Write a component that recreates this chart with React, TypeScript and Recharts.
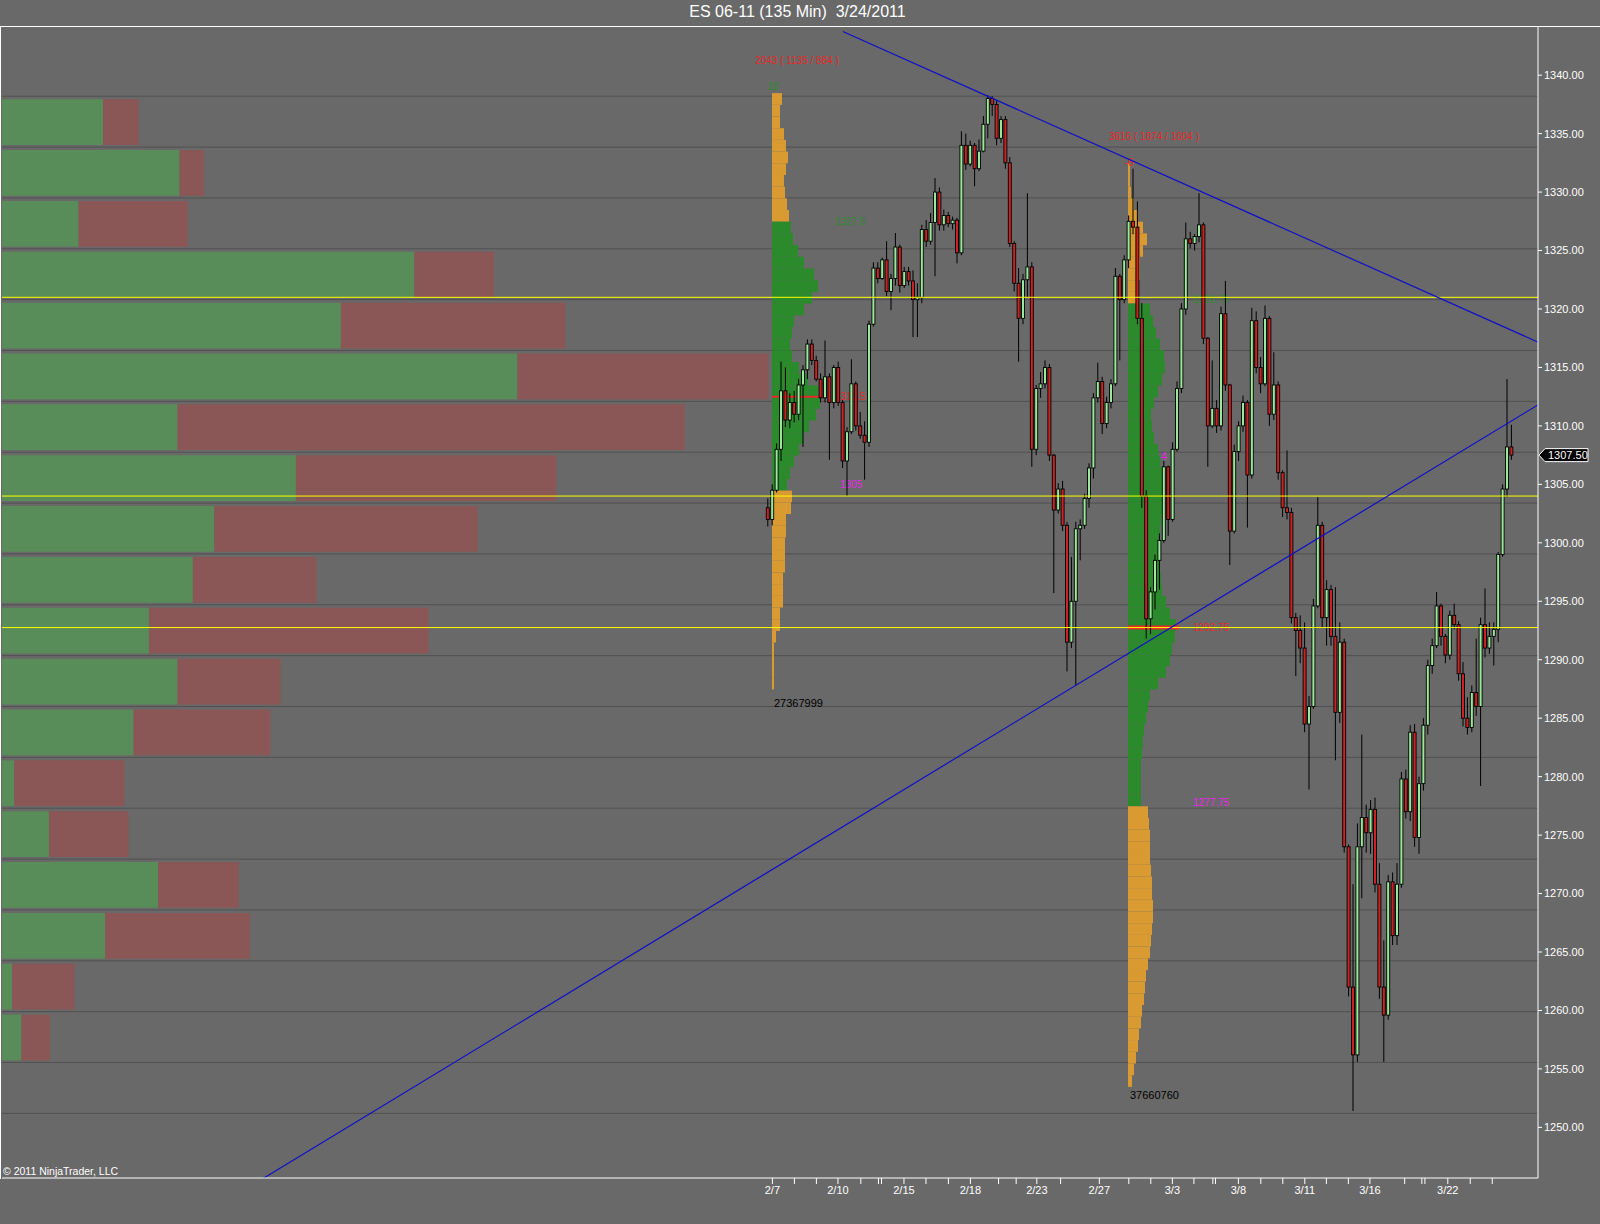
import React from 'react';
import { ComposedChart, BarChart, Bar, XAxis, YAxis, ReferenceLine, ReferenceDot, Cell } from 'recharts';

// ---------------- data ----------------
const title = 'ES 06-11 (135 Min)  3/24/2011';
const copyright = '\u00A9 2011 NinjaTrader, LLC';

// 135-min bars (open, high, low, close), resampled from the chart
const ohlc: [number, number, number, number][] = [
  [1303.0, 1303.8, 1301.4, 1302.0], [1302.0, 1305.0, 1301.5, 1304.5], [1304.5, 1308.5, 1304.3, 1308.0], [1308.0, 1315.5, 1307.0, 1313.0],
  [1313.0, 1315.0, 1309.9, 1310.5], [1310.5, 1312.8, 1309.8, 1312.0], [1312.0, 1313.0, 1310.3, 1311.0], [1311.0, 1314.0, 1310.5, 1313.5],
  [1313.5, 1315.2, 1308.2, 1314.8], [1314.8, 1317.4, 1314.0, 1317.0], [1317.0, 1317.4, 1315.2, 1315.6], [1315.6, 1316.0, 1313.8, 1314.0],
  [1314.0, 1314.5, 1312.0, 1312.4], [1312.4, 1317.3, 1312.0, 1314.2], [1314.2, 1314.5, 1307.1, 1312.0], [1312.0, 1315.2, 1311.5, 1315.0],
  [1315.0, 1315.5, 1311.7, 1312.0], [1312.0, 1312.2, 1306.4, 1307.0], [1307.0, 1309.9, 1304.0, 1309.5], [1309.5, 1315.7, 1309.3, 1313.6],
  [1313.6, 1313.8, 1309.6, 1310.0], [1310.0, 1311.2, 1308.9, 1309.2], [1309.2, 1310.4, 1305.4, 1308.6], [1308.6, 1319.0, 1308.2, 1318.7],
  [1318.7, 1324.0, 1318.5, 1323.5], [1323.5, 1324.0, 1322.2, 1322.6], [1322.6, 1324.4, 1322.5, 1324.2], [1324.2, 1325.8, 1321.1, 1321.5],
  [1321.5, 1323.0, 1319.9, 1322.6], [1322.6, 1326.5, 1322.0, 1325.3], [1325.3, 1325.5, 1321.4, 1322.0], [1322.0, 1323.6, 1321.8, 1323.2],
  [1323.2, 1323.6, 1322.0, 1322.4], [1322.4, 1323.3, 1317.6, 1320.8], [1320.8, 1322.2, 1317.6, 1321.0], [1321.0, 1327.2, 1320.5, 1326.8],
  [1326.8, 1327.6, 1325.3, 1325.8], [1325.8, 1328.2, 1325.5, 1327.4], [1327.4, 1331.2, 1322.8, 1330.0], [1330.0, 1330.4, 1326.7, 1327.2],
  [1327.2, 1328.5, 1326.7, 1328.0], [1328.0, 1328.3, 1327.0, 1327.3], [1327.3, 1327.9, 1326.8, 1327.6], [1327.6, 1327.8, 1323.9, 1324.8],
  [1324.8, 1335.2, 1324.6, 1334.0], [1334.0, 1335.0, 1331.9, 1332.4], [1332.4, 1334.4, 1332.2, 1334.0], [1334.0, 1334.2, 1330.5, 1332.0],
  [1332.0, 1334.5, 1331.8, 1333.5], [1333.5, 1336.5, 1333.4, 1335.8], [1335.8, 1338.3, 1334.6, 1338.0], [1338.0, 1338.2, 1336.5, 1337.5],
  [1337.5, 1337.8, 1334.0, 1334.6], [1334.6, 1336.5, 1334.2, 1336.2], [1336.2, 1336.5, 1332.0, 1332.5], [1332.5, 1333.0, 1325.3, 1325.6],
  [1325.6, 1325.8, 1321.5, 1322.2], [1322.2, 1323.5, 1315.5, 1319.2], [1319.2, 1323.0, 1318.7, 1322.5], [1322.5, 1329.9, 1321.0, 1323.6],
  [1323.6, 1324.0, 1306.5, 1308.0], [1308.0, 1313.5, 1307.5, 1313.2], [1313.2, 1314.6, 1312.4, 1313.6], [1313.6, 1315.6, 1313.2, 1315.0],
  [1315.0, 1315.3, 1307.0, 1307.5], [1307.5, 1307.6, 1295.7, 1302.8], [1302.8, 1305.1, 1302.5, 1304.6], [1304.6, 1305.3, 1301.0, 1301.5],
  [1301.5, 1301.8, 1289.0, 1291.5], [1291.5, 1298.8, 1291.0, 1295.0], [1295.0, 1301.8, 1287.8, 1301.2], [1301.2, 1302.0, 1298.5, 1301.5],
  [1301.5, 1304.2, 1301.2, 1303.8], [1303.8, 1306.8, 1303.0, 1306.4], [1306.4, 1312.8, 1305.5, 1312.4], [1312.4, 1315.4, 1312.0, 1313.8],
  [1313.8, 1314.2, 1309.3, 1310.2], [1310.2, 1312.5, 1309.8, 1312.0], [1312.0, 1314.0, 1311.5, 1313.6], [1313.6, 1323.5, 1313.4, 1322.8],
  [1322.8, 1323.0, 1315.6, 1320.8], [1320.8, 1324.6, 1320.5, 1324.2], [1324.2, 1328.0, 1323.5, 1327.5], [1327.5, 1332.0, 1326.4, 1327.0],
  [1327.0, 1329.2, 1318.7, 1319.2], [1319.2, 1320.5, 1303.0, 1304.0], [1304.0, 1304.5, 1291.8, 1293.5], [1293.5, 1296.2, 1292.2, 1295.8],
  [1295.8, 1299.0, 1294.3, 1298.5], [1298.5, 1300.8, 1296.0, 1300.2], [1300.2, 1307.0, 1300.0, 1306.5], [1306.5, 1306.6, 1300.6, 1302.0],
  [1302.0, 1308.6, 1301.8, 1308.0], [1308.0, 1313.8, 1307.8, 1313.2], [1313.2, 1320.5, 1312.8, 1320.0], [1320.0, 1327.4, 1319.5, 1326.0],
  [1326.0, 1326.6, 1325.2, 1325.6], [1325.6, 1326.4, 1325.0, 1326.2], [1326.2, 1329.9, 1325.7, 1327.2], [1327.2, 1327.4, 1317.0, 1317.5],
  [1317.5, 1317.6, 1306.5, 1310.0], [1310.0, 1315.6, 1309.8, 1311.5], [1311.5, 1312.2, 1309.4, 1310.0], [1310.0, 1320.2, 1309.6, 1319.6],
  [1319.6, 1322.4, 1313.0, 1313.5], [1313.5, 1313.6, 1298.1, 1301.0], [1301.0, 1308.4, 1300.8, 1307.8], [1307.8, 1310.4, 1307.0, 1310.0],
  [1310.0, 1312.6, 1309.5, 1312.0], [1312.0, 1312.2, 1301.3, 1305.8], [1305.8, 1320.1, 1305.5, 1319.0], [1319.0, 1319.8, 1314.5, 1315.0],
  [1315.0, 1315.9, 1312.8, 1313.6], [1313.6, 1320.3, 1313.4, 1319.2], [1319.2, 1319.4, 1310.0, 1311.0], [1311.0, 1316.3, 1310.5, 1313.5],
  [1313.5, 1313.8, 1305.4, 1306.0], [1306.0, 1306.2, 1302.2, 1303.0], [1303.0, 1307.9, 1302.0, 1302.6], [1302.6, 1303.0, 1293.1, 1293.6],
  [1293.6, 1294.0, 1288.6, 1292.5], [1292.5, 1293.8, 1289.7, 1291.0], [1291.0, 1293.2, 1283.8, 1284.5], [1284.5, 1286.9, 1278.9, 1286.0],
  [1286.0, 1295.2, 1285.8, 1294.6], [1294.6, 1303.9, 1294.4, 1301.5], [1301.5, 1301.8, 1292.7, 1293.6], [1293.6, 1296.8, 1291.2, 1296.0],
  [1296.0, 1296.4, 1291.2, 1292.0], [1292.0, 1296.2, 1281.4, 1285.5], [1285.5, 1293.2, 1284.6, 1291.5], [1291.5, 1291.8, 1273.5, 1274.0],
  [1274.0, 1274.2, 1261.2, 1262.0], [1262.0, 1270.8, 1251.4, 1256.2], [1256.2, 1276.0, 1255.6, 1274.0], [1274.0, 1283.6, 1269.6, 1276.5],
  [1276.5, 1277.6, 1273.5, 1275.2], [1275.2, 1278.0, 1273.4, 1277.2], [1277.2, 1278.2, 1270.1, 1270.8], [1270.8, 1272.6, 1261.0, 1262.0],
  [1262.0, 1266.0, 1255.6, 1259.6], [1259.6, 1271.6, 1259.2, 1271.0], [1271.0, 1271.8, 1265.6, 1266.4], [1266.4, 1272.6, 1265.6, 1270.8],
  [1270.8, 1280.4, 1270.5, 1279.8], [1279.8, 1280.6, 1276.4, 1277.0], [1277.0, 1284.4, 1276.2, 1283.8], [1283.8, 1284.5, 1274.0, 1274.8],
  [1274.8, 1280.0, 1273.4, 1279.4], [1279.4, 1285.0, 1278.8, 1284.4], [1284.4, 1290.0, 1283.6, 1289.5], [1289.5, 1291.8, 1288.8, 1291.2],
  [1291.2, 1295.8, 1291.0, 1294.6], [1294.6, 1294.8, 1291.2, 1292.0], [1292.0, 1292.2, 1289.7, 1290.4], [1290.4, 1294.2, 1290.0, 1293.8],
  [1293.8, 1294.8, 1292.6, 1293.0], [1293.0, 1293.3, 1288.2, 1288.8], [1288.8, 1289.8, 1284.3, 1285.0], [1285.0, 1286.8, 1283.6, 1284.2],
  [1284.2, 1287.8, 1283.8, 1287.2], [1287.2, 1291.8, 1285.2, 1286.0], [1286.0, 1293.6, 1279.2, 1293.0], [1293.0, 1296.1, 1290.2, 1291.0],
  [1291.0, 1293.2, 1290.5, 1292.0], [1292.0, 1293.2, 1289.5, 1292.6], [1292.6, 1299.2, 1291.5, 1299.0], [1299.0, 1305.0, 1298.8, 1304.6],
  [1304.6, 1314.0, 1303.9, 1308.2], [1308.2, 1310.1, 1307.1, 1307.5],
];

// session boundaries (in bar units) and their date labels
const dayTicks = [1.0, 6.0, 11.0, 15.9, 21.1, 25.1, 25.8, 30.9, 35.9, 41.0, 46.0, 52.4, 56.4, 61.1, 66.5, 75.3, 82.0, 87.0,
  91.9, 96.8, 101.1, 101.7, 106.9, 112.0, 117.0, 122.0, 126.9, 131.9, 136.8, 144.7, 148.6, 149.3, 154.5, 159.6, 164.6];
const dayTickLabels = ['2/7', '', '', '2/10', '', '', '', '2/15', '', '', '2/18', '', '', '2/23', '', '2/27', '', '',
  '3/3', '', '', '', '3/8', '', '', '3/11', '', '', '3/16', '', '', '', '3/22', '', ''];

const priceTicks = [1250, 1255, 1260, 1265, 1270, 1275, 1280, 1285, 1290, 1295, 1300, 1305, 1310, 1315, 1320, 1325, 1330, 1335, 1340];

const levelLines = [1321.0, 1304.0, 1292.75];
const downTrend = [{ x: 17, y: 1343.74 }, { x: 176, y: 1317.0 }];
const upTrend = [{ x: -120, y: 1244.43 }, { x: 176, y: 1312.03 }];

// volume by price (left histogram)
const vbpEdges = [1338.2, 1333.85, 1329.5, 1325.15, 1320.8, 1316.45, 1312.1, 1307.75, 1303.4, 1299.05, 1294.7,
  1290.35, 1286.0, 1281.65, 1277.3, 1272.95, 1268.6, 1264.25, 1259.9, 1255.55, 1251.2];
const vbpBuy = [99, 174, 75, 404, 332, 505, 172, 288, 208, 187, 144, 172, 129, 12, 46, 153, 101, 10, 19];
const vbpSell = [35, 24, 107, 78, 220, 246, 497, 255, 258, 121, 274, 101, 134, 108, 78, 79, 142, 61, 28];

// market profile 1 (2/7 - 2/25)
const p1Prices = [1338, 1337, 1336, 1335, 1334, 1333, 1332, 1331, 1330, 1329, 1328, 1327, 1326, 1325, 1324, 1323, 1322, 1321,
  1320, 1319, 1318, 1317, 1316, 1315, 1314, 1313, 1312, 1311, 1310, 1309, 1308, 1307, 1306, 1305, 1304, 1303, 1302, 1301,
  1300, 1299, 1298, 1297, 1296, 1295, 1294, 1293, 1292, 1291, 1290, 1289, 1288];
const p1Vol = [10, 8, 8, 12, 14, 16, 14, 12, 13, 15, 17, 19, 21, 26, 32, 42, 46, 40, 32, 22, 20, 18, 20, 27, 36, 46, 48, 44,
  37, 31, 27, 22, 18, 15, 20, 19, 14, 14, 13, 13, 13, 11, 11, 11, 8, 8, 4, 2, 2, 2, 2];

// market profile 2 (2/28 - )
const p2Prices = [1332, 1331, 1330, 1329, 1328, 1327, 1326, 1325, 1324, 1323, 1322, 1321, 1320, 1319, 1318, 1317, 1316, 1315,
  1314, 1313, 1312, 1311, 1310, 1309, 1308, 1307, 1306, 1305, 1304, 1303, 1302, 1301, 1300, 1299, 1298, 1297, 1296, 1295,
  1294, 1293, 1292, 1291, 1290, 1289, 1288, 1287, 1286, 1285, 1284, 1283, 1282, 1281, 1280, 1279, 1278, 1277, 1276, 1275,
  1274, 1273, 1272, 1271, 1270, 1269, 1268, 1267, 1266, 1265, 1264, 1263, 1262, 1261, 1260, 1259, 1258, 1257, 1256, 1255, 1254];
const p2Vol = [2, 2, 3, 6, 10, 15, 19, 15, 12, 12, 11, 10, 22, 25, 28, 32, 36, 37, 34, 30, 26, 23, 24, 26, 30, 32, 34, 35,
  35, 34, 33, 32, 32, 32, 32, 33, 34, 38, 42, 48, 47, 44, 42, 38, 30, 22, 20, 18, 16, 15, 14, 13, 13, 13, 13,
  20, 21, 22, 22, 22, 23, 24, 24, 25, 25, 24, 23, 22, 20, 18, 17, 16, 14, 13, 11, 10, 8, 6, 4];

const p1Stats = { vah: 1327.5, val: 1305, poc: 1312.5 };
const p2Stats = { vah: 1320.75, val: 1277.75, poc: 1292.75 };

// ---------------- layout / style ----------------
const W = 1600;
const H = 1224;
const PLOT_TOP = 27;
const PLOT_LEFT = 2;
const AXIS_W = 62;
const XAXIS_H = 46;
const PRICE_DOMAIN: [number, number] = [1245.67, 1344.12];
const BAR_PX = 4.4;
const FIRST_BAR_X = 768;
const X_DOMAIN: [number, number] = [(PLOT_LEFT - FIRST_BAR_X) / BAR_PX, (W - AXIS_W - FIRST_BAR_X) / BAR_PX];
const VBP_MAX = 1505;
const PROFILE_W = 240;
const PROFILE_PAD = 40;

const FONT = '"Liberation Sans", Arial, Helvetica, sans-serif';
const BG = '#696969';
const GRID = '#515151';
const UP = '#9be89b';
const DOWN = '#cc2222';
const VBP_GREEN = '#588c58';
const VBP_RED = '#8b5656';
const PROF_GREEN = '#2b8a2b';
const PROF_ORANGE = '#d99a32';
const LBL_RED = '#e82828';
const LBL_GREEN = '#2e8b2e';
const LBL_MAGENTA = '#ee22ee';
const TREND = '#1010c8';

const candles = ohlc.map(([open, high, low, close], i) => ({ i, open, high, low, close, range: [low, high] }));
const lastClose = ohlc[ohlc.length - 1][3];
const vbpRows = vbpBuy.map((b, k) => ({ price: (vbpEdges[k] + vbpEdges[k + 1]) / 2, buy: b, sell: vbpSell[k] }));

function Candle(props: any) {
  const { x, y, width, height, payload } = props;
  if (!payload || x == null || y == null) return null;
  const top = Math.min(y, y + height);
  const h = Math.abs(height);
  const { open, high, low, close } = payload;
  const k = high > low ? h / (high - low) : 0;
  const py = (p: number) => top + (high - p) * k;
  const cx = x + width / 2;
  const bTop = py(Math.max(open, close));
  const bBot = py(Math.min(open, close));
  const up = close >= open;
  return (
    <g>
      <line x1={cx} x2={cx} y1={top} y2={top + h} stroke="#000" strokeWidth={1} />
      <rect x={x + 0.5} y={bTop} width={Math.max(1, width - 1)} height={Math.max(1, bBot - bTop)}
        fill={up ? UP : DOWN} stroke="#000" strokeWidth={0.9} />
    </g>
  );
}

// profile row: slightly taller than its band so rows join without seams
function ProfileRow(props: any) {
  const { x, y, width, height, fill } = props;
  if (x == null || y == null || !width) return null;
  const top = Math.min(y, y + height);
  const h = Math.abs(height);
  return <rect x={x} y={top - 0.6} width={Math.abs(width)} height={h + 1.2} fill={fill} />;
}

function PriceTag(props: any) {
  const vb = props.viewBox || {};
  const x = vb.x + vb.width;
  const y = vb.y;
  return (
    <g>
      <path d={`M${x + 1},${y} L${x + 7},${y - 6.5} L${x + 50},${y - 6.5} L${x + 50},${y + 6.5} L${x + 7},${y + 6.5} Z`}
        fill="#000" stroke="#fff" strokeWidth={1} />
      <text x={x + 10} y={y + 4} fill="#fff" fontSize={11} fontFamily={FONT}>{lastClose.toFixed(2)}</text>
    </g>
  );
}

type Lbl = { text: string; x: number; y: number; color: string; center?: boolean; size?: number };

const p1Labels: Lbl[] = [
  { text: '2043 ( 1135 / 884 )', x: 25, y: 1341.3, color: LBL_RED, center: true },
  { text: '18', x: 1, y: 1339.0, color: LBL_GREEN, center: true },
  { text: '1327.5', x: 63, y: 1327.5, color: LBL_GREEN },
  { text: '1312.5', x: 63, y: 1312.5, color: LBL_RED },
  { text: '1305', x: 68, y: 1305.0, color: LBL_MAGENTA },
  { text: '27367999', x: 2, y: 1286.3, color: '#000', size: 11 },
];
const p2Labels: Lbl[] = [
  { text: '3616 ( 1874 / 1604 )', x: 26, y: 1334.8, color: LBL_RED, center: true },
  { text: '-6', x: 1, y: 1332.5, color: LBL_RED, center: true },
  { text: '1320.75', x: 65, y: 1320.8, color: LBL_GREEN },
  { text: '1292.75', x: 65, y: 1292.75, color: LBL_RED },
  { text: '1277.75', x: 65, y: 1277.78, color: LBL_MAGENTA },
  { text: '4', x: 36, y: 1307.4, color: LBL_MAGENTA, center: true },
  { text: '37660760', x: 2, y: 1252.8, color: '#000', size: 11 },
];

function Profile(props: { left: number; prices: number[]; vols: number[]; stats: { vah: number; val: number; poc: number };
  pocLen: number; pocWidth: number; labels: Lbl[] }) {
  const { left, prices, vols, stats, pocLen, pocWidth, labels } = props;
  const rows = prices.map((p, k) => ({ price: p, vol: vols[k] }));
  return (
    <div style={{ position: 'absolute', left: left - PROFILE_PAD, top: 0 }}>
      <BarChart layout="vertical" width={PROFILE_W} height={H} data={rows}
        margin={{ top: PLOT_TOP, right: 0, bottom: XAXIS_H, left: 0 }}>
        <XAxis type="number" domain={[-PROFILE_PAD, PROFILE_W - PROFILE_PAD]} hide allowDataOverflow />
        <YAxis type="number" dataKey="price" domain={PRICE_DOMAIN} hide allowDataOverflow reversed />
        <Bar dataKey="vol" barSize={12} isAnimationActive={false} shape={(p: any) => <ProfileRow {...p} />}>
          {rows.map((r, k) => (
            <Cell key={k} fill={r.price <= stats.vah && r.price >= stats.val ? PROF_GREEN : PROF_ORANGE} />
          ))}
        </Bar>
        <ReferenceLine segment={[{ x: 0, y: stats.poc }, { x: pocLen, y: stats.poc }]} stroke={LBL_RED}
          strokeWidth={pocWidth} ifOverflow="visible" />
        {labels.map((l, k) => (
          <ReferenceDot key={k} x={l.x} y={l.y} r={0} fill="none" stroke="none" ifOverflow="visible"
            label={{ value: l.text, position: l.center ? 'center' : 'right', offset: 0, fill: l.color,
              fontSize: l.size || 10, fontFamily: FONT }} />
        ))}
      </BarChart>
    </div>
  );
}

export default function App() {
  return (
    <div style={{ position: 'absolute', left: 0, top: 0, width: W, height: H, background: BG, overflow: 'hidden', fontFamily: FONT }}>
      <div style={{ position: 'absolute', left: 0, top: 3, width: 1595, textAlign: 'center', color: '#fff', fontSize: 16, whiteSpace: 'pre' }}>{title}</div>

      {/* volume by price */}
      <div style={{ position: 'absolute', left: 0, top: 0 }}>
        <BarChart layout="vertical" width={W} height={H} data={vbpRows}
          margin={{ top: PLOT_TOP, right: AXIS_W, bottom: XAXIS_H, left: PLOT_LEFT }}>
          <XAxis type="number" domain={[0, VBP_MAX]} hide allowDataOverflow />
          <YAxis type="number" dataKey="price" domain={PRICE_DOMAIN} hide allowDataOverflow reversed />
          <Bar dataKey="buy" stackId="v" fill={VBP_GREEN} barSize={51} isAnimationActive={false} />
          <Bar dataKey="sell" stackId="v" fill={VBP_RED} barSize={51} isAnimationActive={false} />
          {vbpEdges.map((e) => (
            <ReferenceLine key={e} y={e} stroke={GRID} strokeWidth={1} />
          ))}
        </BarChart>
      </div>

      <Profile left={772} prices={p1Prices} vols={p1Vol} stats={p1Stats} pocLen={51} pocWidth={2} labels={p1Labels} />
      <Profile left={1128} prices={p2Prices} vols={p2Vol} stats={p2Stats} pocLen={51} pocWidth={4} labels={p2Labels} />

      {/* candles + axes */}
      <div style={{ position: 'absolute', left: 0, top: 0 }}>
        <ComposedChart width={W} height={H} data={candles} margin={{ top: PLOT_TOP, right: 0, bottom: 0, left: PLOT_LEFT }}>
          <XAxis dataKey="i" type="number" domain={X_DOMAIN} allowDataOverflow ticks={dayTicks} interval={0}
            tickFormatter={(v: number) => dayTickLabels[dayTicks.indexOf(v)] || ''} height={XAXIS_H} tickSize={6}
            axisLine={{ stroke: '#fff' }} tickLine={{ stroke: '#fff' }}
            tick={{ fill: '#fff', fontSize: 11, fontFamily: FONT }} />
          <YAxis orientation="right" type="number" domain={PRICE_DOMAIN} allowDataOverflow ticks={priceTicks} interval={0}
            width={AXIS_W} tickSize={4} tickFormatter={(v: number) => v.toFixed(2)}
            axisLine={{ stroke: '#fff' }} tickLine={{ stroke: '#fff' }}
            tick={{ fill: '#fff', fontSize: 11, fontFamily: FONT }} />
          {levelLines.map((v) => (
            <ReferenceLine key={v} y={v} stroke="#ffff00" strokeWidth={1} />
          ))}
          <Bar dataKey="range" barSize={4} isAnimationActive={false} shape={(p: any) => <Candle {...p} />} />
          <ReferenceLine segment={downTrend} stroke={TREND} strokeWidth={1.2} ifOverflow="hidden" />
          <ReferenceLine segment={upTrend} stroke={TREND} strokeWidth={1.2} ifOverflow="hidden" />
          <ReferenceLine y={lastClose} stroke="none" strokeWidth={0} label={(p: any) => <PriceTag {...p} />} />
        </ComposedChart>
      </div>

      {/* panel borders */}
      <div style={{ position: 'absolute', left: 0, top: 26, width: W, height: 1, background: '#fff' }} />
      <div style={{ position: 'absolute', left: 0, top: 26, width: 1, height: 1153, background: '#fff' }} />
      <div style={{ position: 'absolute', left: 3, top: 1165, color: '#fff', fontSize: 10.5 }}>{copyright}</div>
    </div>
  );
}
